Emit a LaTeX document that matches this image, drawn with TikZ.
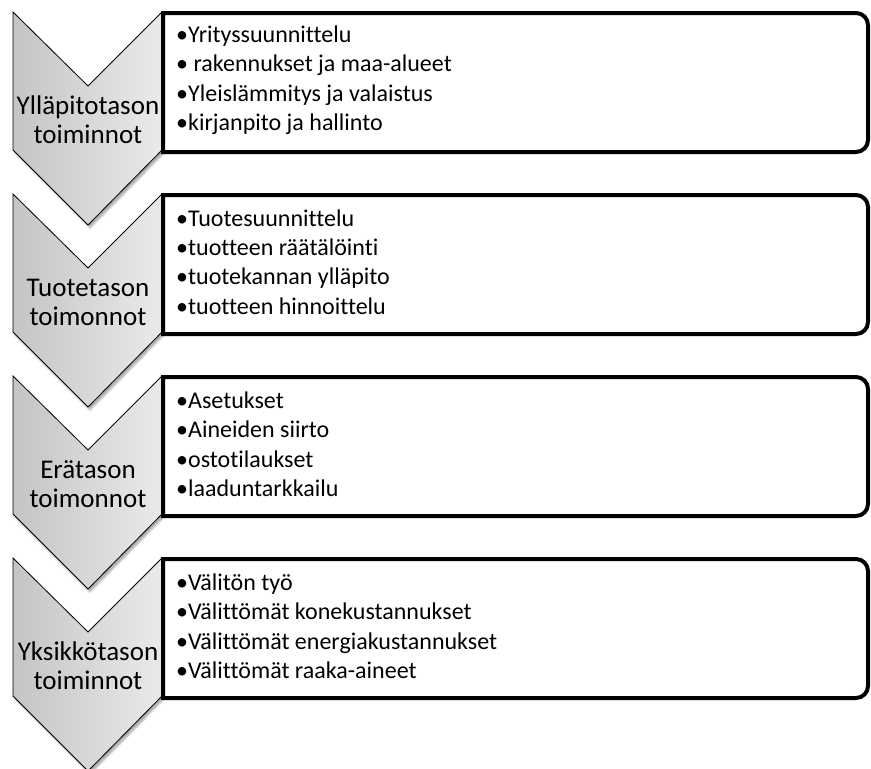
\documentclass[tikz,border=0pt]{standalone}
\usepackage{fontspec}
\setmainfont[Ligatures=NoCommon]{Carlito}
\usetikzlibrary{shadows.blur}
\definecolor{chevdark}{RGB}{196,196,196}
\definecolor{chevlight}{RGB}{234,234,234}

\begin{document}
\begin{tikzpicture}[
  x=1pt,y=-1pt,
  chevron/.style={draw=black,line width=0.8pt,left color=chevdark,right color=chevlight,
    blur shadow={shadow xshift=2pt,shadow yshift=-3pt,shadow opacity=35,shadow blur steps=6}},
  itembox/.style={draw=black,line width=4pt,fill=white},
  level/.style={align=center,inner sep=0pt,font=\fontsize{27}{29}\selectfont},
  items/.style={align=left,anchor=west,inner sep=0pt,font=\fontsize{24}{29.5}\selectfont}
]
  \useasboundingbox (0,0) rectangle (871,769);

  % Chevrons
  \path[chevron] (13,12) -- (88,86) -- (162,12) -- (162,150) -- (88,225) -- (13,150) -- cycle;
  \path[chevron] (13,194) -- (88,268) -- (162,194) -- (162,332) -- (88,407) -- (13,332) -- cycle;
  \path[chevron] (13,376) -- (88,450) -- (162,376) -- (162,514) -- (88,589) -- (13,514) -- cycle;
  \path[chevron] (13,558) -- (88,632) -- (162,558) -- (162,696) -- (88,771) -- (13,696) -- cycle;

  % Boxes
  \path[itembox] (163,13) [rounded corners=12pt] -- (868,13) -- (868,152) [sharp corners] -- (163,152) -- cycle;
  \path[itembox] (163,195) [rounded corners=12pt] -- (868,195) -- (868,334) [sharp corners] -- (163,334) -- cycle;
  \path[itembox] (163,377) [rounded corners=12pt] -- (868,377) -- (868,516) [sharp corners] -- (163,516) -- cycle;
  \path[itembox] (163,559) [rounded corners=12pt] -- (868,559) -- (868,698) [sharp corners] -- (163,698) -- cycle;

  % Level names
  \node[level] (ylla) at (88,120) {Ylläpitotason\\toiminnot};
  \node[level] (tuote) at (88,302) {Tuotetason\\toimonnot};
  \node[level] (era) at (88,484) {Erätason\\toimonnot};
  \node[level] (yksikko) at (88,666) {Yksikkötason\\toiminnot};

  % Activities
  \node[items] (yllalist) at (176,80) {•Yrityssuunnittelu\\• rakennukset ja maa-alueet\\•Yleislämmitys ja valaistus\\•kirjanpito ja hallinto};
  \node[items] (tuotelist) at (176,262) {•Tuotesuunnittelu\\•tuotteen räätälöinti\\•tuotekannan ylläpito\\•tuotteen hinnoittelu};
  \node[items] (eralist) at (176,444) {•Asetukset\\•Aineiden siirto\\•ostotilaukset\\•laaduntarkkailu};
  \node[items] (yksikkolist) at (176,626) {•Välitön työ\\•Välittömät konekustannukset\\•Välittömät energiakustannukset\\•Välittömät raaka-aineet};
\end{tikzpicture}
\end{document}
